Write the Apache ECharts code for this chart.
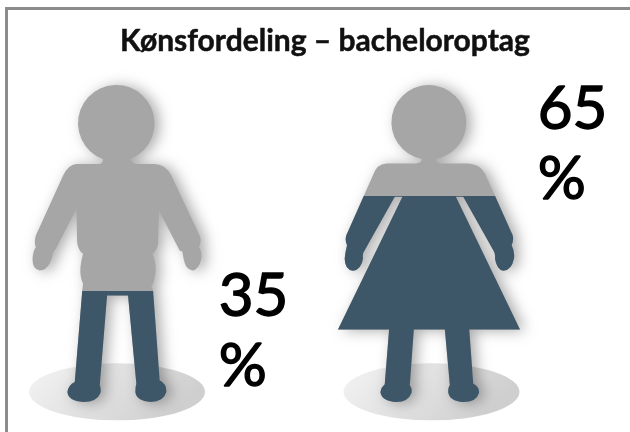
<!DOCTYPE html>
<html><head><meta charset="utf-8">
<style>html,body{margin:0;padding:0;background:#fff}#c{width:630px;height:432px}</style>
<script src="https://cdn.jsdelivr.net/npm/echarts@6/dist/echarts.min.js"></script>
</head><body><div id="c"></div>
<script>
const categories = ['Mænd', 'Kvinder'];
const shares = [35, 65];
const whole = [100, 100];
const titleText = 'Kønsfordeling – bacheloroptag';
const groundLevel = [3.2, 3.2];

const manShape = 'path://M250 266 A115 115 0 1 1 332 265 Q336 279 350 280 L405 280 Q440 282 455 315 L540 495 Q547 510 538 530 Q548 545 545 565 Q537 600 518 600 Q498 598 492 565 Q490 552 488 543 L480 540 L418 420 L415 520 Q412 540 398 550 Q408 570 408 600 Q405 630 395 650 L400 658 L420 930 Q442 942 440 965 Q432 995 393 995 Q350 992 347 965 Q347 948 350 940 L325 675 L262 675 L240 945 Q245 955 242 968 Q232 995 190 995 Q145 992 143 965 Q145 945 165 935 L188 655 L190 640 Q180 620 182 590 Q185 565 190 550 Q175 540 172 515 L170 415 L108 535 L100 545 Q97 565 90 578 Q78 600 60 600 Q38 598 38 565 Q40 540 48 530 Q42 515 48 495 L130 315 Q145 282 170 280 L240 280 Q250 278 250 266 Z';
const womanShape = 'path://M276 267 A112 112 0 1 1 318 267 Q320 280 335 280 L415 280 Q450 282 465 310 L548 495 Q552 510 545 525 Q555 545 552 565 Q545 600 520 602 Q500 598 495 565 Q497 550 490 540 L400 380 L378 380 L570 778 L418 778 L430 940 Q450 950 447 968 Q440 995 400 995 Q358 992 355 965 Q355 950 360 945 L345 778 L252 778 L240 945 Q248 955 245 968 Q235 995 200 995 Q155 992 152 965 Q155 950 165 942 L178 778 L25 778 L218 380 L195 380 L105 540 Q97 550 100 565 Q95 598 70 602 Q45 598 45 565 Q47 545 52 525 Q45 510 50 495 L130 315 Q140 282 170 280 L258 280 Q275 280 276 267 Z';

const GREY = '#a6a6a6', BLUE = '#3d5668';
const sizes = [[169, '100%'], [182, '100%']];
const shapes = [manShape, womanShape];
const groundOffsets = [[0, 0], [2.5, 0]];

function items(values) {
  return values.map((v, i) => ({ value: v, symbol: shapes[i], symbolSize: sizes[i] }));
}

const chart = echarts.init(document.getElementById('c'), null, { renderer: 'canvas' });
chart.setOption({
  animation: false,
  backgroundColor: '#fff',
  title: {
    text: titleText, left: 115, top: 21,
    textStyle: { fontFamily: 'Lato', fontSize: 30, color: '#111', textBorderColor: '#111', textBorderWidth: 0.5 }
  },
  grid: { left: 117, right: 201, top: 85, height: 317 },
  xAxis: { type: 'category', data: categories, boundaryGap: false, show: false },
  yAxis: { type: 'value', min: 0, max: 100, show: false },
  series: [
    {
      type: 'scatter', symbol: 'circle', symbolSize: [176, 57],
      data: groundLevel.map((v, i) => ({ value: v, symbolOffset: groundOffsets[i] })),
      clip: false, silent: true, z: 1,
      itemStyle: {
        opacity: 1,
        color: new echarts.graphic.LinearGradient(0, 0, 1, 0.3, [
          { offset: 0, color: '#f4f4f4' }, { offset: 1, color: '#cfcfcf' }
        ])
      }
    },
    {
      type: 'pictorialBar', data: items(whole), symbolBoundingData: 100, symbolPosition: 'start',
      barGap: '-100%', z: 2, silent: true,
      itemStyle: { color: GREY, shadowColor: 'rgba(0,0,0,0.33)', shadowBlur: 14, shadowOffsetX: 5, shadowOffsetY: 1 }
    },
    {
      type: 'pictorialBar', data: items(shares), symbolBoundingData: 100, symbolPosition: 'start',
      symbolClip: true, barGap: '-100%', z: 3, silent: true,
      itemStyle: { color: BLUE }
    }
  ],
  graphic: [
    { type: 'rect', shape: { x: 6.5, y: 8.5, width: 640, height: 440 }, z: 10,
      style: { fill: 'none', stroke: '#8c8c8c', lineWidth: 3 } },
    { type: 'text', left: 218, top: 262, z: 10,
      style: { text: shares[0] + '\n%', fontFamily: 'Lato', fontSize: 60, lineHeight: 70, fill: '#000', stroke: '#000', lineWidth: 1.4 } },
    { type: 'text', left: 537, top: 75, z: 10,
      style: { text: shares[1] + '\n%', fontFamily: 'Lato', fontSize: 60, lineHeight: 70, fill: '#000', stroke: '#000', lineWidth: 1.4 } }
  ]
});
</script></body></html>
